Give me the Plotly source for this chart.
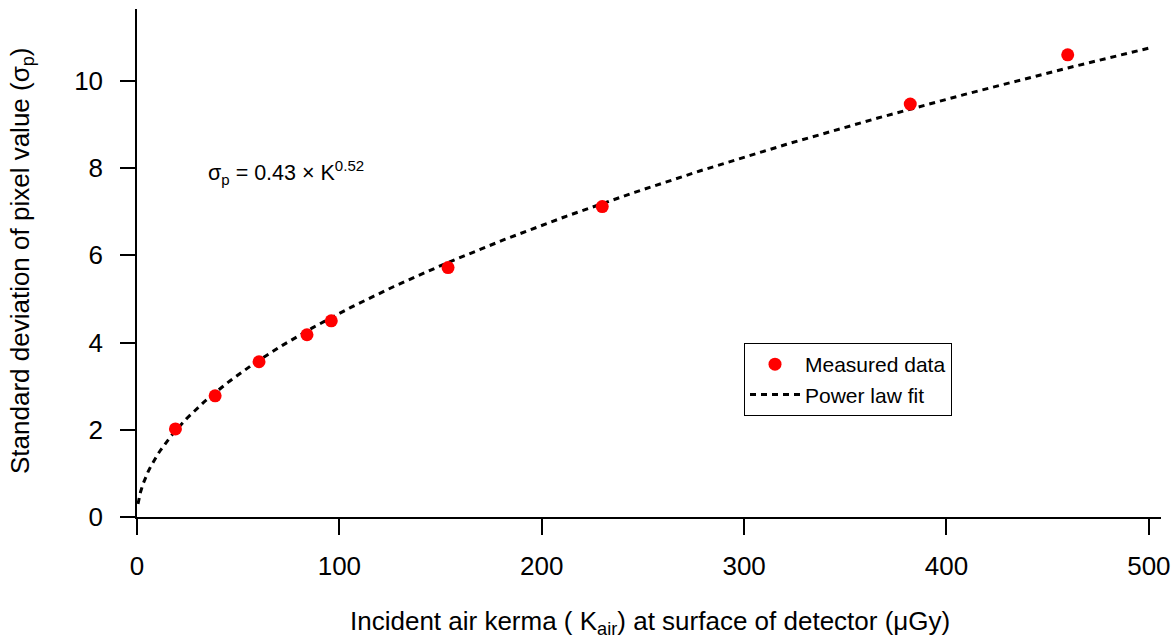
import numpy as np
import plotly.graph_objects as go

kerma = [19, 38.6, 60.3, 84, 96, 153.7, 229.9, 382.1, 459.9]
sigma = [2.02, 2.78, 3.56, 4.18, 4.5, 5.72, 7.12, 9.47, 10.6]

# Power-law fit parameters shown on the chart
fit_a = 0.43
fit_b = 0.518

x_ticks = [0, 100, 200, 300, 400, 500]
y_ticks = [0, 2, 4, 6, 8, 10]

k_fit = np.linspace(0.5, 500, 400)
s_fit = fit_a * k_fit ** fit_b

FONT = "Liberation Sans, Arial, sans-serif"

L, R, T, B = 137, 15, 9, 122
W, H = 1176, 639
pw = W - L - R
ph = H - T - B

def px(xp):
    return (xp - L) / pw

def py(yp):
    return (H - B - yp) / ph

fig = go.Figure()
fig.add_trace(go.Scatter(
    x=k_fit, y=s_fit, mode="lines", name="Power law fit",
    line=dict(color="black", width=3, dash="6px,5px"),
))
fig.add_trace(go.Scatter(
    x=kerma, y=sigma, mode="markers", name="Measured data",
    marker=dict(color="#ff0000", size=13, line=dict(width=0)),
))

fig.update_layout(
    width=W, height=H,
    margin=dict(l=L, r=R, t=T, b=B, autoexpand=False),
    paper_bgcolor="white", plot_bgcolor="white",
    font=dict(family=FONT, size=26, color="black"),
    showlegend=True,
    legend=dict(
        x=px(744), y=py(343), xanchor="left", yanchor="top",
        bordercolor="black", borderwidth=1, bgcolor="white",
        font=dict(size=21), traceorder="reversed",
        itemwidth=50, tracegroupgap=0,
    ),
    xaxis=dict(
        range=[0, 506], tickvals=x_ticks, showgrid=False, zeroline=False,
        showline=True, linecolor="black", linewidth=1.5,
        ticks="outside", ticklen=16, tickwidth=1.5, tickcolor="black",
        tickfont=dict(size=26), ticklabelstandoff=9, automargin=False,
    ),
    yaxis=dict(
        range=[0, 11.65], tickvals=y_ticks, showgrid=False, zeroline=False,
        showline=True, linecolor="black", linewidth=1.5,
        ticks="outside", ticklen=15, tickwidth=1.5, tickcolor="black",
        tickfont=dict(size=26), ticklabelstandoff=12, automargin=False,
    ),
)

fig.add_annotation(
    text="Incident air kerma ( K<sub>air</sub>) at surface of detector (μGy)",
    xref="paper", yref="paper", x=px(650), y=py(622),
    xanchor="center", yanchor="middle", showarrow=False,
    font=dict(size=26),
)
fig.add_annotation(
    text="Standard deviation of pixel value (σ<sub>p</sub>)",
    xref="paper", yref="paper", x=px(21), y=py(261),
    xanchor="center", yanchor="middle", showarrow=False, textangle=-90,
    font=dict(size=26),
)
fig.add_annotation(
    text="σ<sub>p</sub> = 0.43 × K<sup>0.52</sup>",
    xref="paper", yref="paper", x=px(206), y=py(172),
    xanchor="left", yanchor="middle", showarrow=False,
    font=dict(size=21.5),
)

fig.write_html("out.html")
